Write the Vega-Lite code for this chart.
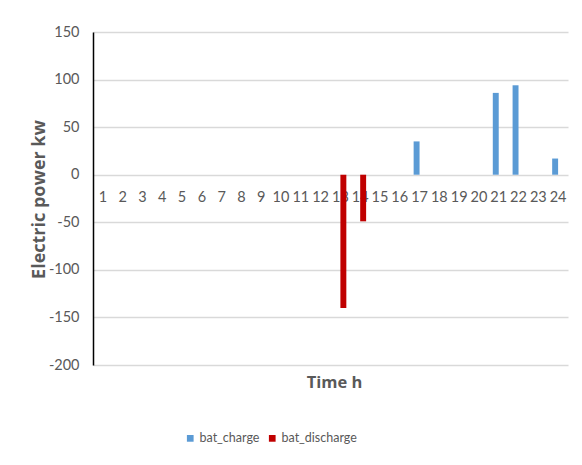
{
  "$schema": "https://vega.github.io/schema/vega-lite/v6.json",
  "width": 475,
  "height": 333,
  "autosize": {"type": "none"},
  "padding": {"left": 93, "top": 32, "right": 14, "bottom": 100},
  "background": "white",
  "config": {
    "view": {"stroke": null},
    "font": "Lato",
    "axis": {"labelFont": "Lato", "titleFont": "Open Sans", "labelColor": "#595959", "titleColor": "#595959"}
  },
  "data": {
    "values": [
      {"hour": 13, "series": "bat_discharge", "power": -140},
      {"hour": 14, "series": "bat_discharge", "power": -49},
      {"hour": 17, "series": "bat_charge", "power": 35},
      {"hour": 21, "series": "bat_charge", "power": 86},
      {"hour": 22, "series": "bat_charge", "power": 94},
      {"hour": 24, "series": "bat_charge", "power": 17}
    ]
  },
  "mark": {"type": "bar"},
  "encoding": {
    "x": {
      "field": "hour",
      "type": "ordinal",
      "scale": {
        "domain": [1, 2, 3, 4, 5, 6, 7, 8, 9, 10, 11, 12, 13, 14, 15, 16, 17, 18, 19, 20, 21, 22, 23, 24],
        "paddingInner": 0.4,
        "paddingOuter": 0.2
      },
      "axis": {
        "title": "Time h",
        "titleFontSize": 16.5,
        "titleFontWeight": "bold",
        "titleX": 241,
        "titleY": 208,
        "titleBaseline": "middle",
        "offset": -191,
        "domain": false,
        "ticks": false,
        "labelAngle": 0,
        "labelFontSize": 14.5,
        "labelPadding": 16,
        "grid": false
      }
    },
    "xOffset": {
      "field": "series",
      "type": "nominal",
      "scale": {"domain": ["bat_charge", "bat_discharge"], "paddingInner": 0, "paddingOuter": 0}
    },
    "y": {
      "field": "power",
      "type": "quantitative",
      "scale": {"domain": [-200, 150], "nice": false},
      "axis": {
        "title": "Electric power kw",
        "titleFontSize": 18,
        "titleFontWeight": "bold",
        "titleX": -54,
        "titleY": 167,
        "titleAngle": -90,
        "titleBaseline": "middle",
        "values": [-200, -150, -100, -50, 0, 50, 100, 150],
        "labelExpr": "datum.value < 0 ? '-' + abs(datum.value) : '' + datum.value",
        "labelFontSize": 14.5,
        "labelPadding": 14,
        "ticks": false,
        "domainColor": "#000000",
        "domainWidth": 1.5,
        "gridColor": "#d9d9d9",
        "gridWidth": 1.5
      }
    },
    "color": {
      "field": "series",
      "type": "nominal",
      "scale": {"domain": ["bat_charge", "bat_discharge"], "range": ["#5b9bd5", "#c00000"]},
      "legend": {
        "title": null,
        "orient": "none",
        "direction": "horizontal",
        "legendX": 91,
        "legendY": 400,
        "symbolType": "square",
        "symbolSize": 45,
        "symbolStrokeWidth": 0,
        "labelFont": "Lato",
        "labelFontSize": 12.5,
        "labelColor": "#595959",
        "columnPadding": 6,
        "labelOffset": 3
      }
    }
  }
}
